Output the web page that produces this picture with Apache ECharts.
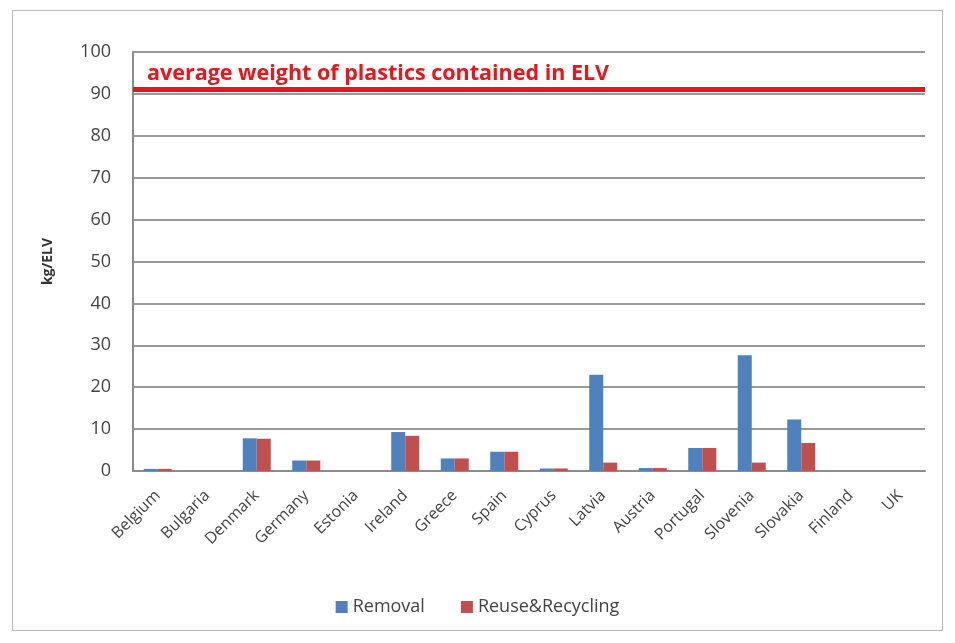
<!DOCTYPE html>
<html>
<head>
<meta charset="utf-8">
<script src="https://cdn.jsdelivr.net/npm/echarts@6/dist/echarts.min.js"></script>
<style>
html,body{margin:0;padding:0;background:#fff;}
#frame{position:absolute;left:12px;top:10px;width:931px;height:621px;border:1px solid #b8b8b8;box-sizing:border-box;}
#chart{position:absolute;left:0;top:0;width:955px;height:643px;}
</style>
</head>
<body>
<div id="frame"></div>
<div id="chart"></div>
<script>
// Plastics from end-of-life vehicles per member state (kg/ELV)
const countries = ['Belgium','Bulgaria','Denmark','Germany','Estonia','Ireland','Greece','Spain','Cyprus','Latvia','Austria','Portugal','Slovenia','Slovakia','Finland','UK'];
const removal   = [0.5, 0, 7.8, 2.5, 0, 9.3, 3.0, 4.6, 0.6, 23.0, 0.7, 5.5, 27.6, 12.3, 0, 0];
const recycling = [0.5, 0, 7.7, 2.5, 0, 8.4, 3.0, 4.6, 0.6, 2.0, 0.7, 5.5, 2.0, 6.7, 0, 0];
const avgWeight = 91;
const avgLabel = 'average weight of plastics contained in ELV';
const yTicks = [0, 10, 20, 30, 40, 50, 60, 70, 80, 90, 100];

const font = '"Open Sans", "Liberation Sans", sans-serif';
const chart = echarts.init(document.getElementById('chart'), null, {renderer: 'canvas'});
chart.setOption({
  animation: false,
  grid: {left: 133, right: 30, top: 52, bottom: 172},
  legend: {
    bottom: 22, left: 'center', itemWidth: 12, itemHeight: 12, itemGap: 36,
    icon: 'rect',
    textStyle: {fontFamily: font, fontSize: 18, color: '#444'},
    data: ['Removal', 'Reuse&Recycling']
  },
  xAxis: {
    type: 'category', data: countries,
    axisLine: {lineStyle: {color: '#8c8c8c', width: 2}},
    axisTick: {show: false},
    axisLabel: {rotate: 45, fontFamily: font, fontSize: 16, color: '#444', margin: 22, interval: 0}
  },
  yAxis: {
    type: 'value', min: yTicks[0], max: yTicks[yTicks.length - 1], interval: 10,
    name: 'kg/ELV', nameLocation: 'middle', nameGap: 78, nameRotate: 90,
    nameTextStyle: {fontFamily: font, fontSize: 14, fontWeight: 'bold', color: '#333'},
    axisLine: {show: true, lineStyle: {color: '#8c8c8c', width: 2}},
    axisTick: {show: false},
    axisLabel: {fontFamily: font, fontSize: 18, color: '#444', margin: 22},
    splitLine: {lineStyle: {color: '#9a9a9a', width: 2}}
  },
  series: [
    {
      name: 'Removal', type: 'bar', data: removal,
      barWidth: 14, barGap: '0%',
      itemStyle: {color: '#4f81bd'},
      markLine: {
        silent: true, symbol: 'none',
        lineStyle: {color: '#e8161b', width: 5, type: 'solid'},
        label: {
          show: true, position: 'insideStartTop', formatter: avgLabel,
          fontFamily: font, fontSize: 21.5, fontWeight: 'bold', color: '#e8161b', distance: [14, 5]
        },
        data: [{yAxis: avgWeight}]
      }
    },
    {
      name: 'Reuse&Recycling', type: 'bar', data: recycling,
      barWidth: 14,
      itemStyle: {color: '#c0504d'}
    }
  ]
});
</script>
</body>
</html>
